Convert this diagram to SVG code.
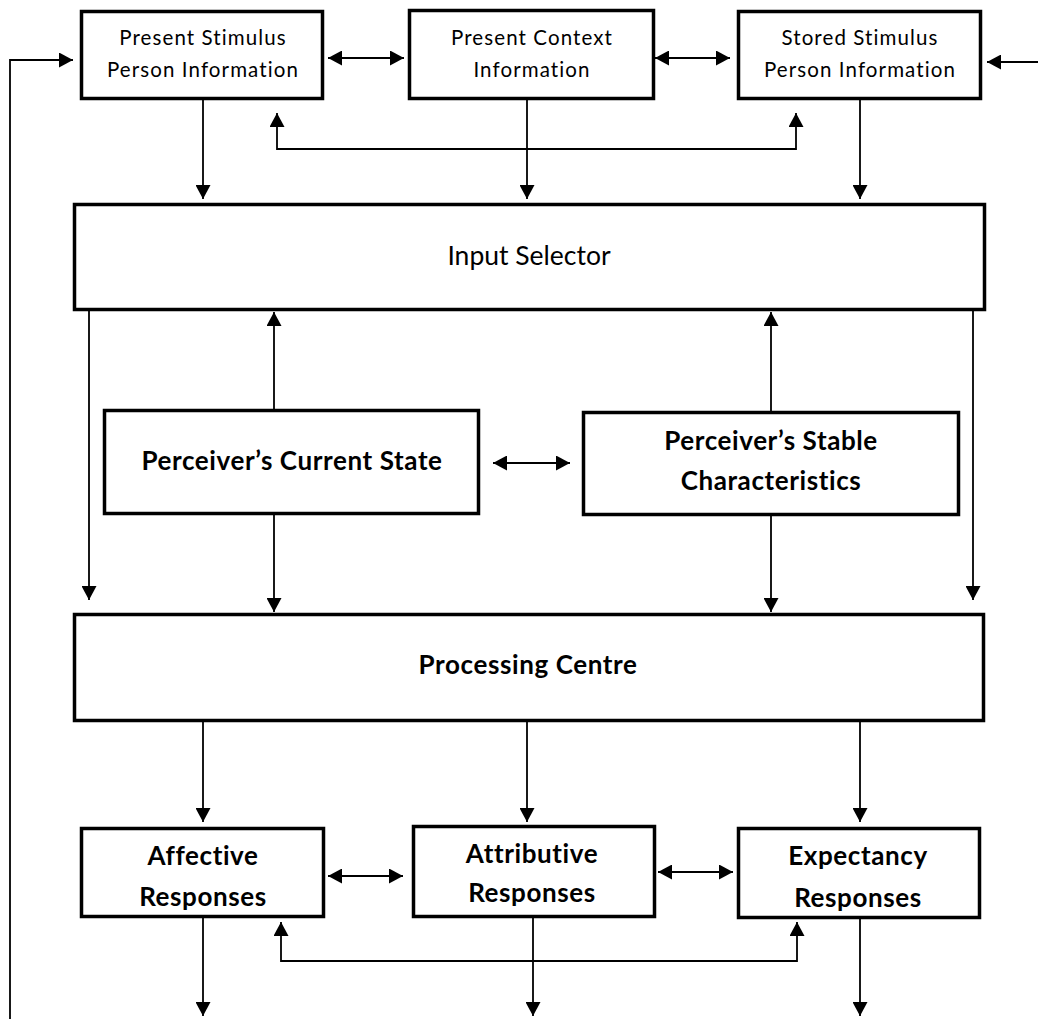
<svg xmlns="http://www.w3.org/2000/svg" width="1038" height="1019" viewBox="0 0 1038 1019">
<defs>
<marker id="ah" viewBox="0 0 14 15" refX="14" refY="7.5" markerWidth="14" markerHeight="15" markerUnits="userSpaceOnUse" orient="auto-start-reverse">
<path d="M0,0 L14,7.5 L0,15 z" fill="#000"/>
</marker>
</defs>
<style>
.box{fill:#fff;stroke:#000;stroke-width:3.5}
.t{font-family:Lato,"Open Sans","Liberation Sans",sans-serif;text-anchor:middle;fill:#000;font-variant-ligatures:none}
.s{font-size:20.5px;letter-spacing:1.1px}
.m{font-size:26.5px}
.b{font-size:26px;font-weight:bold;letter-spacing:0.6px}
.c{fill:none;stroke:#000;stroke-width:1.8}
.a1{marker-end:url(#ah)}
.a2{marker-start:url(#ah);marker-end:url(#ah)}
</style>
<rect width="1038" height="1019" fill="#fff"/>
<g id="connectors">
<path class="c a1" d="M10,1019 L10,60 L73,60"/>
<path class="c a1" d="M1038,62 L987,62"/>
<path class="c a2" d="M328,58 L404,58"/>
<path class="c a2" d="M655,58 L730,58"/>
<path class="c a1" d="M203,100 L203,199"/>
<path class="c a1" d="M527,100 L527,199"/>
<path class="c a1" d="M860,100 L860,199"/>
<path class="c a2" d="M277,113 L277,149 L796,149 L796,113"/>
<path class="c a1" d="M274,409 L274,312"/>
<path class="c a1" d="M771,411 L771,312"/>
<path class="c a1" d="M89,311 L89,600"/>
<path class="c a1" d="M973,311 L973,600"/>
<path class="c a2" d="M493,463 L570,463"/>
<path class="c a1" d="M274,515 L274,612"/>
<path class="c a1" d="M771,516 L771,612"/>
<path class="c a1" d="M203,722 L203,822"/>
<path class="c a1" d="M527,722 L527,822"/>
<path class="c a1" d="M860,722 L860,822"/>
<path class="c a2" d="M328,876 L403,876"/>
<path class="c a2" d="M658,872 L733,872"/>
<path class="c a2" d="M281,922 L281,961 L797,961 L797,922"/>
<path class="c a1" d="M203,918 L203,1016"/>
<path class="c a1" d="M533,917 L533,1016"/>
<path class="c a1" d="M860,919 L860,1016"/>
</g>
<g id="present-stimulus">
<rect class="box" x="81.5" y="11.5" width="241" height="87"/>
<text class="t s" x="203" y="45">Present Stimulus</text>
<text class="t s" x="203" y="77">Person Information</text>
</g>
<g id="present-context">
<rect class="box" x="409.5" y="10.5" width="244" height="88"/>
<text class="t s" x="532" y="45">Present Context</text>
<text class="t s" x="532" y="77">Information</text>
</g>
<g id="stored-stimulus">
<rect class="box" x="738.5" y="11.5" width="242" height="87"/>
<text class="t s" x="860" y="45">Stored Stimulus</text>
<text class="t s" x="860" y="77">Person Information</text>
</g>
<g id="input-selector">
<rect class="box" x="74.5" y="204.5" width="910" height="105"/>
<text class="t m" x="529" y="265">Input Selector</text>
</g>
<g id="current-state">
<rect class="box" x="104.5" y="410.5" width="374" height="103"/>
<text class="t b" x="292" y="470">Perceiver’s Current State</text>
</g>
<g id="stable-characteristics">
<rect class="box" x="583.5" y="412.5" width="375" height="102"/>
<text class="t b" x="771" y="450">Perceiver’s Stable</text>
<text class="t b" x="771" y="490">Characteristics</text>
</g>
<g id="processing-centre">
<rect class="box" x="74.5" y="614.5" width="909" height="106"/>
<text class="t b" x="528" y="674">Processing Centre</text>
</g>
<g id="affective">
<rect class="box" x="81.5" y="828.5" width="242" height="88"/>
<text class="t b" x="203" y="865">Affective</text>
<text class="t b" x="203" y="906">Responses</text>
</g>
<g id="attributive">
<rect class="box" x="413.5" y="826.5" width="241" height="90"/>
<text class="t b" x="532" y="863">Attributive</text>
<text class="t b" x="532" y="902">Responses</text>
</g>
<g id="expectancy">
<rect class="box" x="738.5" y="828.5" width="241" height="89"/>
<text class="t b" x="858" y="865">Expectancy</text>
<text class="t b" x="858" y="907">Responses</text>
</g>
</svg>
